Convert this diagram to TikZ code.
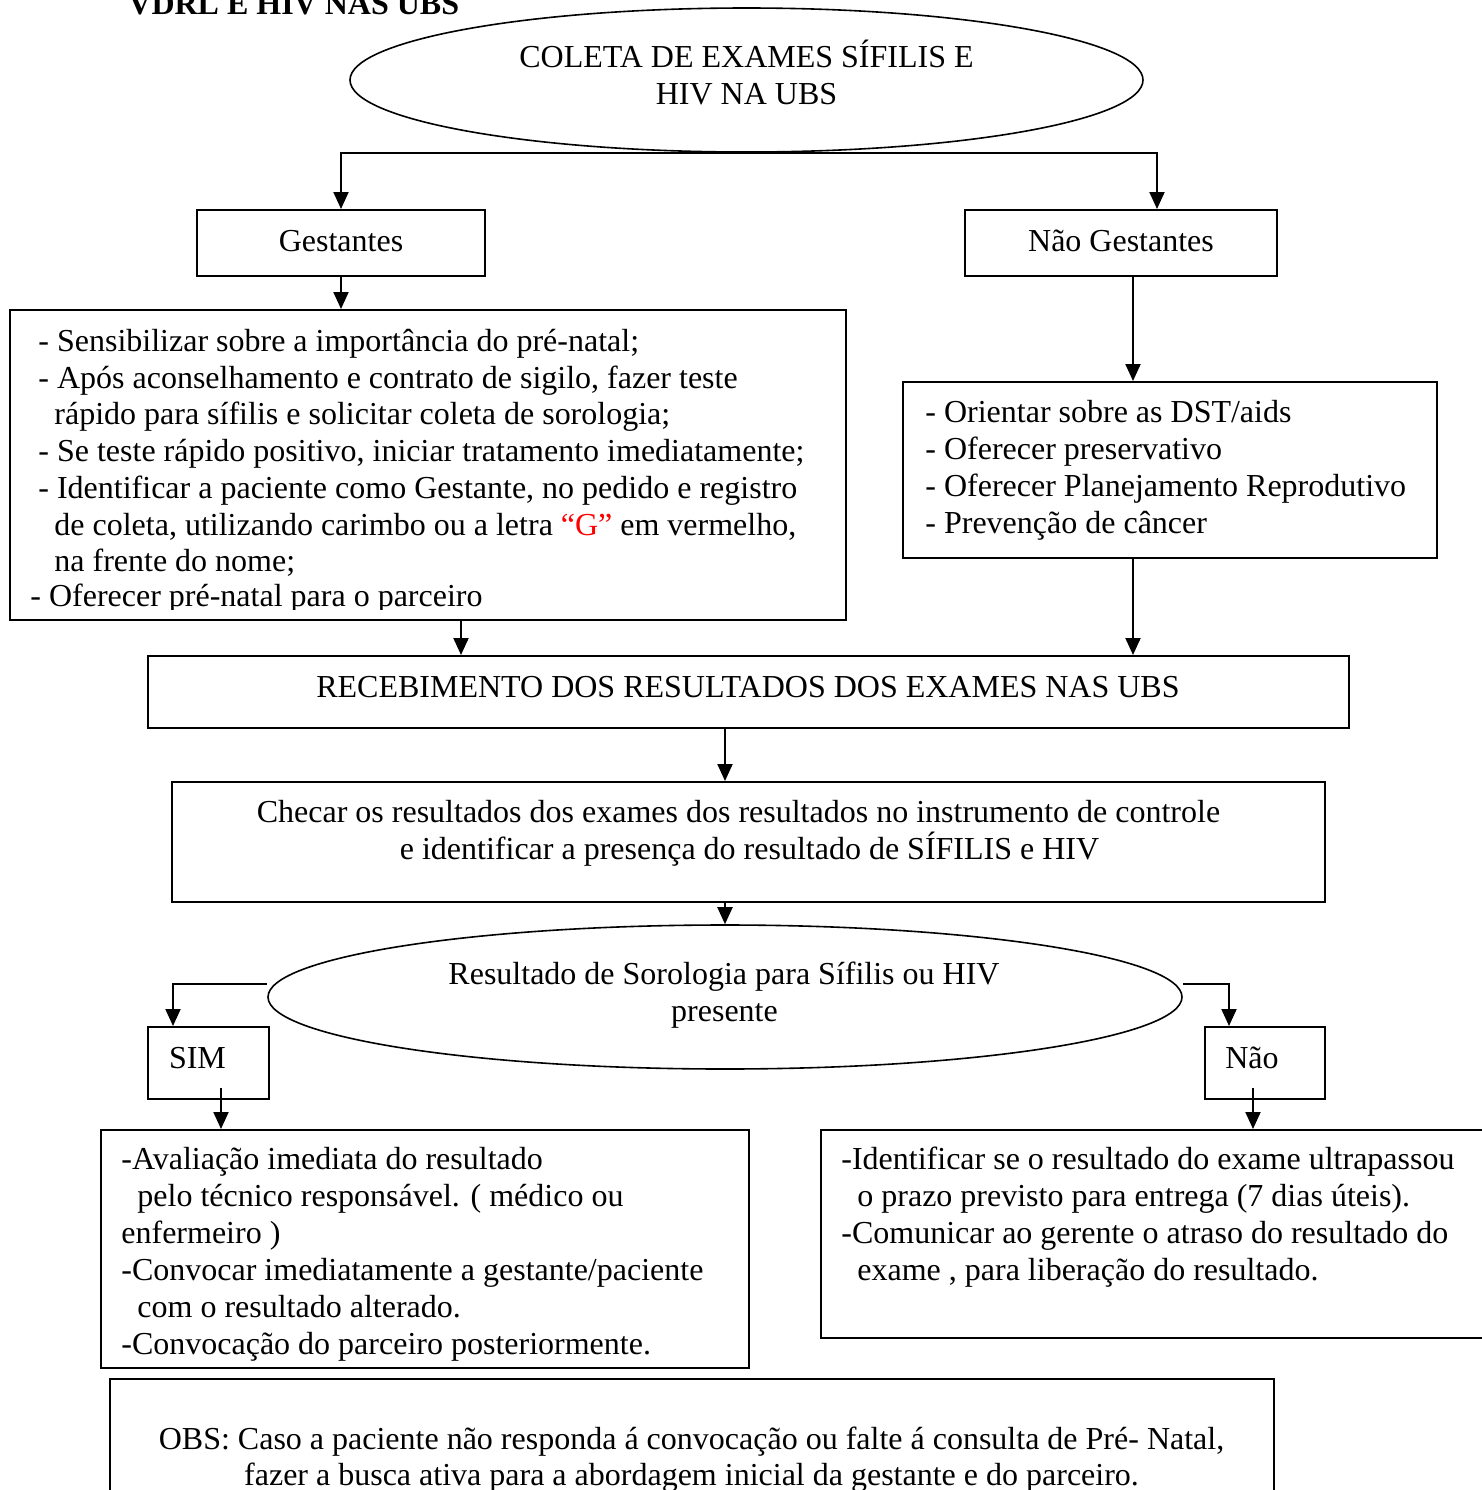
\documentclass[tikz,border=0pt]{standalone}
\usepackage{fontspec}
\setmainfont{Liberation Serif}
\usetikzlibrary{shapes.geometric,arrows.meta,calc}
\begin{document}
\begin{tikzpicture}[x=0.5pt,y=-0.5pt,
  bx/.style={draw,line width=1pt,rectangle,inner sep=0pt},
  el/.style={draw,line width=0.8pt,ellipse,inner sep=0pt},
  tx/.style={anchor=base west,inner sep=0pt,font=\fontsize{16pt}{18.5pt}\selectfont},
  tc/.style={anchor=base,inner sep=0pt,font=\fontsize{16pt}{18.5pt}\selectfont},
  arr/.style={line width=1pt,-{Triangle[width=7.5pt,length=8.5pt]}}]
\useasboundingbox (0,0) rectangle (1482,1490);
\clip (0,0) rectangle (1482,1490);

% title (cut off at the top, as in the reference)
\node[tx,font=\fontsize{16pt}{18.5pt}\selectfont\bfseries] (title) at (128,14) {VDRL E HIV NAS UBS};

% shapes
\node[el,minimum width=396.5pt,minimum height=72pt] (e1) at (746.5,80) {};
\node[bx,minimum width=144pt,minimum height=33pt] (ges) at (341,243) {};
\node[bx,minimum width=156pt,minimum height=33pt] (nges) at (1121,243) {};
\node[bx,minimum width=418pt,minimum height=155pt] (lbox) at (428,465) {};
\node[bx,minimum width=267pt,minimum height=88pt] (rbox) at (1170,470) {};
\node[bx,minimum width=600.5pt,minimum height=36pt] (receb) at (748.5,692) {};
\node[bx,minimum width=576.5pt,minimum height=60pt] (checar) at (748.5,842) {};
\node[el,minimum width=457pt,minimum height=72pt] (e2) at (725,997) {};
\node[bx,minimum width=60.5pt,minimum height=36pt] (sim) at (208.5,1063) {};
\node[bx,minimum width=60pt,minimum height=36pt] (nao) at (1265,1063) {};
\node[bx,minimum width=324pt,minimum height=119pt] (sbox) at (425,1249) {};
\node[bx,minimum width=339.5pt,minimum height=104pt] (nbox) at (1160.5,1234) {};
\node[bx,minimum width=582pt,minimum height=60.5pt] (obs) at (692,1439.5) {};

% texts
\node[tc] (e1a) at (746.5,67) {COLETA DE EXAMES SÍFILIS E};
\node[tc] (e1b) at (746.5,104) {HIV NA UBS};
\node[tc] (gest) at (341,251) {Gestantes};
\node[tc] (ngest) at (1121,251) {Não Gestantes};

\node[tx] (l1) at (38,351) {- Sensibilizar sobre a importância do pré-natal;};
\node[tx] (l2) at (38,388) {- Após aconselhamento e contrato de sigilo, fazer teste};
\node[tx] (l3) at (54,424) {rápido para sífilis e solicitar coleta de sorologia;};
\node[tx] (l4) at (38,461) {- Se teste rápido positivo, iniciar tratamento imediatamente;};
\node[tx] (l5) at (38,498) {- Identificar a paciente como Gestante, no pedido e registro};
\node[tx] (l6) at (54,535) {de coleta, utilizando carimbo ou a letra \textcolor{red}{“G”} em vermelho,};
\node[tx] (l7) at (54,571) {na frente do nome;};
\begin{scope}
\clip (10,560) rectangle (846,609);
\node[tx] (l8) at (30,606) {- Oferecer pré-natal para o parceiro};
\end{scope}

\node[tx] (r1) at (925,422) {- Orientar sobre as DST/aids};
\node[tx] (r2) at (925,459) {- Oferecer preservativo};
\node[tx] (r3) at (925,496) {- Oferecer Planejamento Reprodutivo};
\node[tx] (r4) at (925,533) {- Prevenção de câncer};

\node[tc] (rect) at (748,697) {RECEBIMENTO DOS RESULTADOS DOS EXAMES NAS UBS};
\node[tc] (c1) at (738.5,822) {Checar os resultados dos exames dos resultados no instrumento de controle};
\node[tc] (c2) at (749.5,859) {e identificar a presença do resultado de SÍFILIS e HIV};
\node[tc] (q1) at (724,984) {Resultado de Sorologia para Sífilis ou HIV};
\node[tc] (q2) at (724.5,1021) {presente};
\node[tc] (simt) at (197.5,1068) {SIM};
\node[tc] (naot) at (1252,1068) {Não};

\node[tx] (s1) at (121,1169) {-Avaliação imediata do resultado};
\node[tx] (s2) at (137,1206) {pelo técnico responsável. ( médico ou};
\node[tx] (s3) at (121,1243) {enfermeiro )};
\node[tx] (s4) at (121,1280) {-Convocar imediatamente a gestante/paciente};
\node[tx] (s5) at (137,1317) {com o resultado alterado.};
\node[tx] (s6) at (121,1354) {-Convocação do parceiro posteriormente.};

\node[tx] (n1) at (841,1169) {-Identificar se o resultado do exame ultrapassou};
\node[tx] (n2) at (857,1206) {o prazo previsto para entrega (7 dias úteis).};
\node[tx] (n3) at (841,1243) {-Comunicar ao gerente o atraso do resultado do};
\node[tx] (n4) at (857,1280) {exame , para liberação do resultado.};

\node[tc] (o1) at (691.5,1449) {OBS: Caso a paciente não responda á convocação ou falte á consulta de Pré- Natal,};
\node[tc] (o2) at (691.5,1485) {fazer a busca ativa para a abordagem inicial da gestante e do parceiro.};

% connector anchor points
\coordinate (pN) at ([xshift=18pt]nges.north);
\coordinate (pNs) at ([xshift=6pt]nges.south);
\coordinate (pL) at ([xshift=16.5pt]lbox.south);
\coordinate (pR) at ([xshift=-18.5pt]rbox.south);
\coordinate (pRc) at ([xshift=-11.75pt]receb.south);
\coordinate (pW) at ([yshift=6.5pt]e2.west);
\coordinate (pE) at ([yshift=6.5pt]e2.east);
\coordinate (pS) at ([xshift=-17.75pt]sim.north);
\coordinate (pNa) at ([xshift=-18pt]nao.north);
\coordinate (pSs) at ([xshift=6.25pt,yshift=6pt]sim.south);
\coordinate (pNas) at ([xshift=-6pt,yshift=6pt]nao.south);

% connectors
\draw[arr] (e1.south) -| (ges.north);
\draw[arr] (e1.south) -| (pN);
\draw[arr] (ges.south) -- (lbox.north -| ges.south);
\draw[arr] (pNs) -- (rbox.north -| pNs);
\draw[arr] (pL) -- (receb.north -| pL);
\draw[arr] (pR) -- (receb.north -| pR);
\draw[arr] (pRc) -- (checar.north -| pRc);
\draw[arr] (checar.south -| e2.north) -- (e2.north);
\draw[arr] (pW) -| (pS);
\draw[arr] (pE) -| (pNa);
\draw[arr] (pSs) -- (sbox.north -| pSs);
\draw[arr] (pNas) -- (nbox.north -| pNas);
\end{tikzpicture}
\end{document}
